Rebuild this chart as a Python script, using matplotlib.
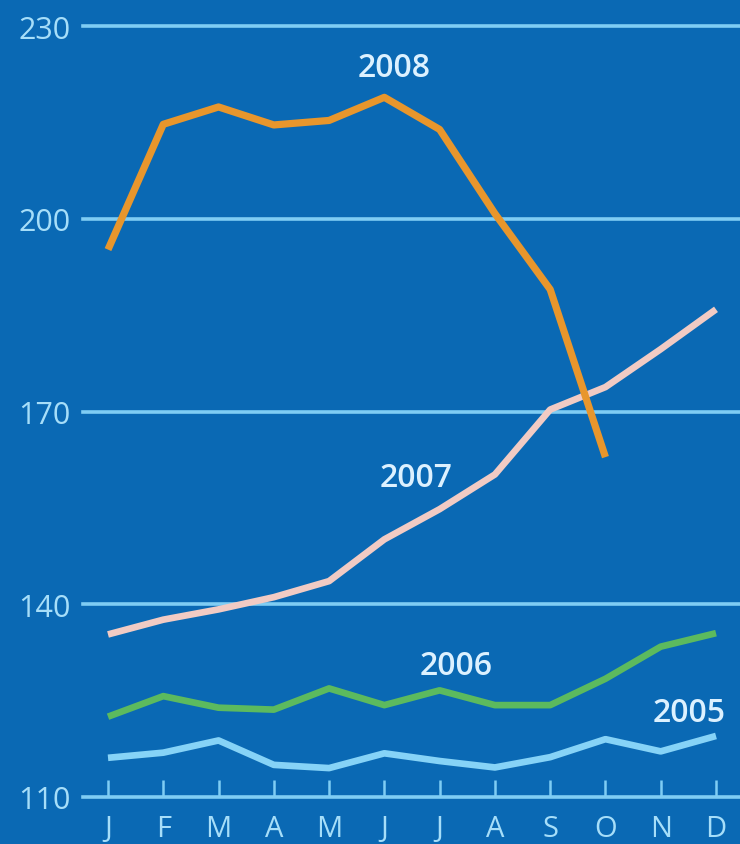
import matplotlib
matplotlib.use('Agg')
import matplotlib.pyplot as plt

plt.rcParams['font.family'] = ['Open Sans', 'DejaVu Sans']

months = ['J', 'F', 'M', 'A', 'M', 'J', 'J', 'A', 'S', 'O', 'N', 'D']
y2008 = [195.2, 214.7, 217.4, 214.6, 215.3, 218.9, 213.9, 200.8, 189.0, 162.9]
y2007 = [135.3, 137.6, 139.2, 141.1, 143.6, 150.1, 154.8, 160.2, 170.3, 173.8, 179.7, 185.9]
y2006 = [122.5, 125.7, 123.9, 123.6, 126.9, 124.3, 126.6, 124.3, 124.3, 128.4, 133.4, 135.5]
y2005 = [116.1, 116.9, 118.8, 115.0, 114.5, 116.8, 115.6, 114.6, 116.2, 119.0, 117.1, 119.5]
yticks = [110, 140, 170, 200, 230]

bg = '#0a69b4'
grid_c = '#7fcdf4'
text_c = '#a6def9'
label_c = '#dcf1ff'

fig = plt.figure(figsize=(7.4, 8.45), dpi=100, facecolor=bg)
ax = fig.add_axes([83 / 740, 47 / 845, 1 - 83 / 740, 1 - 47 / 845])
ax.set_facecolor(bg)

for v in yticks:
    ax.axhline(v, color=grid_c, linewidth=2.6, clip_on=False, zorder=1)

x = list(range(len(months)))
style = dict(solid_capstyle='butt', solid_joinstyle='round')
ax.plot(x, y2005, color='#86d3f7', linewidth=4.8, zorder=3, **style)
ax.plot(x, y2006, color='#5cba5e', linewidth=4.8, zorder=3, **style)
ax.plot(x, y2007, color='#f1cbc4', linewidth=4.8, zorder=3, **style)
ax.plot(x[:len(y2008)], y2008, color='#e8962c', linewidth=5.2, zorder=4, **style)

lab = dict(color=label_c, fontsize=23, fontweight='semibold', ha='center', va='center')
ax.text(5.18, 223.6, '2008', **lab)
ax.text(5.57, 159.7, '2007', **lab)
ax.text(6.30, 130.4, '2006', **lab)
ax.text(10.51, 123.1, '2005', **lab)

ax.set_xlim(-25 / 55.27, 11 + 24 / 55.27)
ax.set_ylim(110, 230 + 27 / 6.425)
ax.set_xticks(x)
ax.set_xticklabels(months)
ax.set_yticks(yticks)
ax.tick_params(axis='x', direction='in', length=12, width=1.8, color=grid_c,
               labelcolor=text_c, labelsize=21, pad=12)
ax.tick_params(axis='y', length=0, labelcolor=text_c, labelsize=22, pad=9)
for s in ax.spines.values():
    s.set_visible(False)

fig.savefig('out.png', dpi=100, facecolor=bg)
